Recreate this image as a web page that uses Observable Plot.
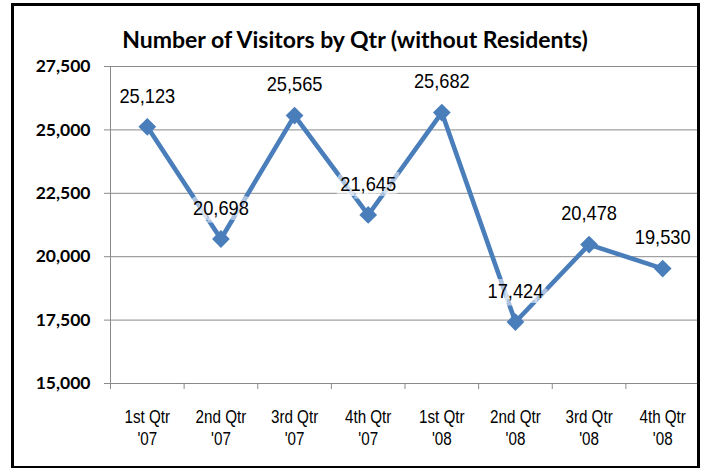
<!DOCTYPE html>
<html>
<head>
<meta charset="utf-8">
<script src="https://cdn.jsdelivr.net/npm/d3@7"></script>
<script src="https://cdn.jsdelivr.net/npm/@observablehq/plot@0.6"></script>
<style>
  html, body { margin: 0; padding: 0; background: #fff; }
  #wrap { position: relative; width: 702px; height: 468px; overflow: hidden; }
  #frame { position: absolute; left: 11px; top: 3px; width: 683px; height: 460px; border: 3px solid #000; border-bottom-width: 2px; box-sizing: content-box; }
  #title { position: absolute; left: 0; width: 710px; top: 26px; text-align: center; font-family: Lato, "Open Sans", sans-serif; font-weight: bold; font-size: 23px; line-height: 1.2; color: #000; white-space: nowrap; }
  #chart { position: absolute; left: 0; top: 0; }
</style>
</head>
<body>
<div id="wrap">
  <div id="chart"></div>
  <div id="frame"></div>
  <div id="title">Number of Visitors by Qtr (without Residents)</div>
</div>
<script>
const quarters = ["1st Qtr\n'07", "2nd Qtr\n'07", "3rd Qtr\n'07", "4th Qtr\n'07", "1st Qtr\n'08", "2nd Qtr\n'08", "3rd Qtr\n'08", "4th Qtr\n'08"];
const visitors = [25123, 20698, 25565, 21645, 25682, 17424, 20478, 19530];
const yTicks = [15000, 17500, 20000, 22500, 25000, 27500];

const data = quarters.map((q, i) => ({pos: i + 0.5, label: q, value: visitors[i]}));
const centers = data.map(d => d.pos);
const bounds = d3.range(0, quarters.length + 1);

const blue = "#4A7EBB";
const narrow = "'Liberation Sans', Arial, sans-serif";

const chart = Plot.plot({
  width: 702,
  height: 468,
  marginLeft: 110,
  marginRight: 3,
  marginTop: 66,
  marginBottom: 85,
  x: {domain: [0, quarters.length]},
  y: {domain: [15000, 27500]},
  style: {background: "transparent"},
  marks: [
    Plot.ruleY(yTicks, {stroke: "#8a8a8a", strokeWidth: 1}),
    Plot.ruleX([0], {stroke: "#8a8a8a", strokeWidth: 1}),
    Plot.axisY(yTicks, {
      tickSize: 6, tickPadding: 14, stroke: "#8a8a8a",
      tickFormat: d3.format(","), fontSize: 17.5, fontWeight: "bold",
      fontFamily: "Lato, 'Open Sans', sans-serif", fill: "#000", label: null
    }),
    Plot.axisX(bounds, {tickSize: 6, stroke: "#8a8a8a", tickFormat: () => "", label: null}),
    Plot.axisX(centers, {
      tickSize: 0, tickPadding: 24, tickFormat: (d) => quarters[Math.floor(d)],
      fontSize: 19, fontFamily: narrow, lineHeight: 1.16, fill: "#000", label: null,
      className: "narrowx"
    }),
    Plot.line(data, {x: "pos", y: "value", stroke: blue, strokeWidth: 4.6, strokeLinejoin: "round"}),
    Plot.dot(data, {x: "pos", y: "value", symbol: "diamond2", r: 8, fill: blue, stroke: null}),
    Plot.text(data, {
      x: "pos", y: "value", text: (d) => d3.format(",")(d.value), dy: -31,
      fontSize: 21, fontFamily: narrow, fill: "#000",
      stroke: "white", strokeOpacity: 0.55, strokeWidth: 10, strokeLinejoin: "miter",
      className: "narrowlbl"
    })
  ]
});
// emulate a narrow (condensed) typeface by compressing text horizontally about its anchor
function squeeze(sel, k) {
  chart.querySelectorAll(sel).forEach((t) => {
    const tr = t.getAttribute("transform") || "";
    t.setAttribute("transform", tr + ` scale(${k},1)`);
  });
}
squeeze(".narrowlbl text", 0.87);
squeeze(".narrowx text", 0.8);
document.getElementById("chart").appendChild(chart);
</script>
</body>
</html>
